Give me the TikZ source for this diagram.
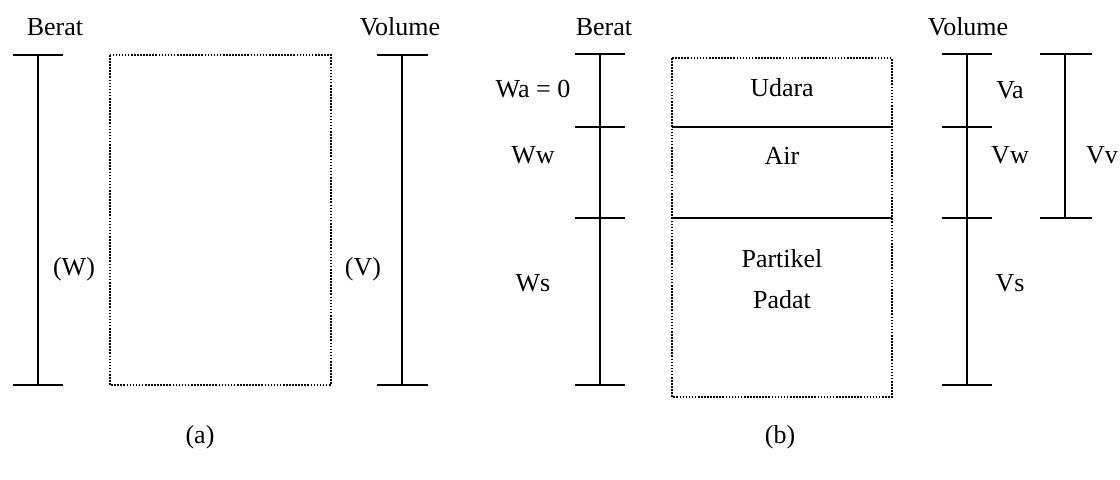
\documentclass[tikz,border=0pt]{standalone}
\usepackage{fontspec}
\setmainfont{Liberation Serif}
\usepackage{tikz}
\usetikzlibrary{positioning, calc}

\begin{document}
\begin{tikzpicture}[x=0.75pt, y=-0.75pt,
    lbl/.style={font=\fontsize{19.5}{23}\selectfont, inner sep=0pt},
    bar/.style={line width=1.6pt},
    tickline/.style={line width=2pt},
    soilbox/.style={line width=1.7pt, dash pattern=on 1.2pt off 1.1pt},
    layer/.style={line width=1.9pt}]
      \useasboundingbox (0,0) rectangle (1120,479);

      % (a) Berat
      \node[lbl] (beratA) at (55,27) {Berat};
      \coordinate (wTop) at (38,55);
      \coordinate (wBot) at (38,385);
      \draw[bar] (wTop) -- (wBot);
      \foreach \y in {55,385} \draw[tickline] (13,\y) -- (63,\y);
      \node[lbl] (wTot) at (74,269) {(W)};

      % (a) Box
      \draw[soilbox] (110,55) rectangle (331,385);

      % (a) Volume
      \node[lbl] (volA) at (400,27) {Volume};
      \coordinate (vTop) at (402,55);
      \coordinate (vBot) at (402,385);
      \draw[bar] (vTop) -- (vBot);
      \foreach \y in {55,385} \draw[tickline] (377,\y) -- (428,\y);
      \node[lbl] (vTot) at (363,269) {(V)};

      \node[lbl] (capA) at (200,437) {(a)};

      % (b) Berat
      \node[lbl] (beratB) at (604,27) {Berat};
      \coordinate (wbTop) at (600,54);
      \coordinate (wbBot) at (600,385);
      \draw[bar] (wbTop) -- (wbBot);
      \foreach \y in {54,127,218,385} \draw[tickline] (575,\y) -- (625,\y);
      \node[lbl] (wa) at (533,89) {Wa = 0};
      \node[lbl] (ww) at (533,155) {Ww};
      \node[lbl] (ws) at (533,283) {Ws};

      % (b) Box with layers
      \draw[soilbox] (672,58) rectangle (892,397);
      \draw[layer] (672,127) -- (892,127);
      \draw[layer] (672,218) -- (892,218);
      \node[lbl] (udara) at (782,88) {Udara};
      \node[lbl] (air) at (782,156) {Air};
      \node[lbl] (partikel) at (782,259) {Partikel};
      \node[lbl] (padat) at (782,300) {Padat};

      % (b) Volume
      \node[lbl] (volB) at (968,27) {Volume};
      \coordinate (vbTop) at (967,54);
      \coordinate (vbBot) at (967,385);
      \draw[bar] (vbTop) -- (vbBot);
      \foreach \y in {54,127,218,385} \draw[tickline] (942,\y) -- (992,\y);
      \node[lbl] (va) at (1010,90) {Va};
      \node[lbl] (vw) at (1010,155) {Vw};
      \node[lbl] (vs) at (1010,283) {Vs};

      % (b) Void volume
      \coordinate (vvTop) at (1065,54);
      \coordinate (vvBot) at (1065,218);
      \draw[bar] (vvTop) -- (vvBot);
      \foreach \y in {54,218} \draw[tickline] (1040,\y) -- (1092,\y);
      \node[lbl] (vv) at (1102,155) {Vv};

      \node[lbl] (capB) at (780,437) {(b)};
    \end{tikzpicture}
\end{document}
